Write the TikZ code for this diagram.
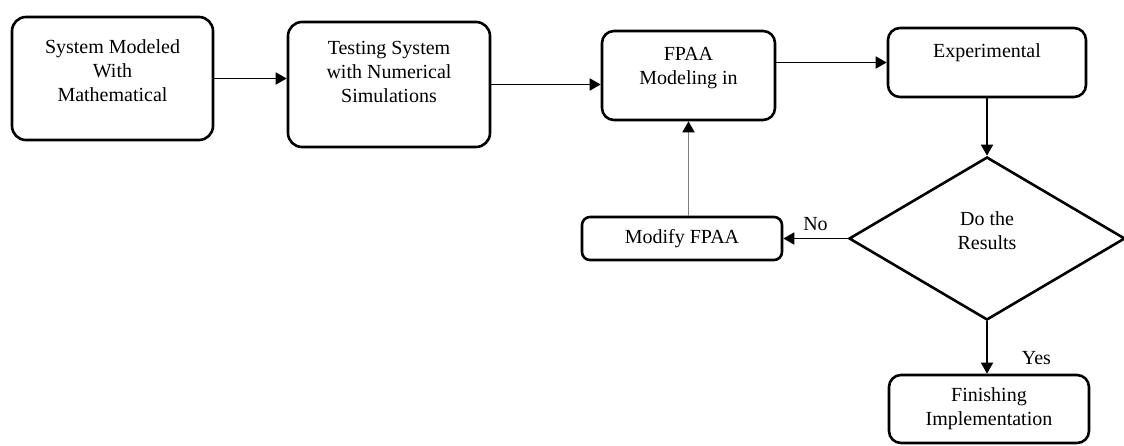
\documentclass[tikz,border=0pt]{standalone}
\usepackage{fontspec}
\setmainfont{Liberation Serif}
\usetikzlibrary{positioning}
\usetikzlibrary{shapes.geometric}
\usetikzlibrary{arrows.meta}
\tikzset{
	procbox/.style={draw, line width=2.6pt, rounded corners=14pt, align=center, inner sep=0pt, font=\fontsize{20}{24}\selectfont},
	decision/.style={draw, diamond, line width=2.6pt, align=center, inner sep=0pt, font=\fontsize{20}{24}\selectfont},
	flow/.style={line width=1.8pt, -{Triangle[length=11pt, width=12pt]}},
	flowlabel/.style={inner sep=0pt, font=\fontsize{20}{24}\selectfont}
}

\begin{document}
\begin{tikzpicture}[x=1pt, y=-1pt]
	%frame of the page
	\useasboundingbox (0,0) rectangle (1124,445);

	%the steps, top row
	\node[procbox, minimum width=201pt, minimum height=123pt, text depth=16pt] (sysmodel) at (112.5,78.5) {System Modeled\\With\\Mathematical};
	\node[procbox, minimum width=202pt, minimum height=125pt, text depth=26pt] (testsim) at (389,84.5) {Testing System\\with Numerical\\Simulations};
	\node[procbox, rounded corners=12pt, minimum width=173pt, minimum height=89pt, text depth=20pt] (fpaa) at (688.5,75.5) {FPAA\\Modeling in};
	\node[procbox, rounded corners=12pt, minimum width=198pt, minimum height=69pt, text depth=24pt] (experim) at (987,62.5) {Experimental};

	%the check and its two outcomes
	\node[decision, minimum width=276pt, minimum height=163pt, text depth=16pt] (results) at (987,238.5) {Do the\\Results};
	\node[procbox, rounded corners=8pt, minimum width=200pt, minimum height=43pt] (modify) at (682,238.5) {Modify FPAA};
	\node[procbox, rounded corners=12pt, minimum width=200pt, minimum height=68pt] (finish) at (989,409) {Finishing\\Implementation};

	%draw connectors
	\draw[flow] (sysmodel.east) -- (sysmodel.east -| testsim.west);
	\draw[flow] (testsim.east) -- (testsim.east -| fpaa.west);
	\draw[flow] (experim.west -| fpaa.east) -- (experim.west);
	\draw[flow] (experim.south) -- (results.north);
	\draw[flow] (results.west) -- node[flowlabel, above=7pt] (nolabel) {No} (modify.east);
	\draw[flow, gray, -{Triangle[length=11pt, width=12pt, color=black]}] (modify.north -| fpaa.south) -- (fpaa.south);
	\draw[flow] (results.south) -- node[flowlabel, pos=0.7, right=34pt] (yeslabel) {Yes} (results.south |- finish.north);
\end{tikzpicture}
\end{document}
